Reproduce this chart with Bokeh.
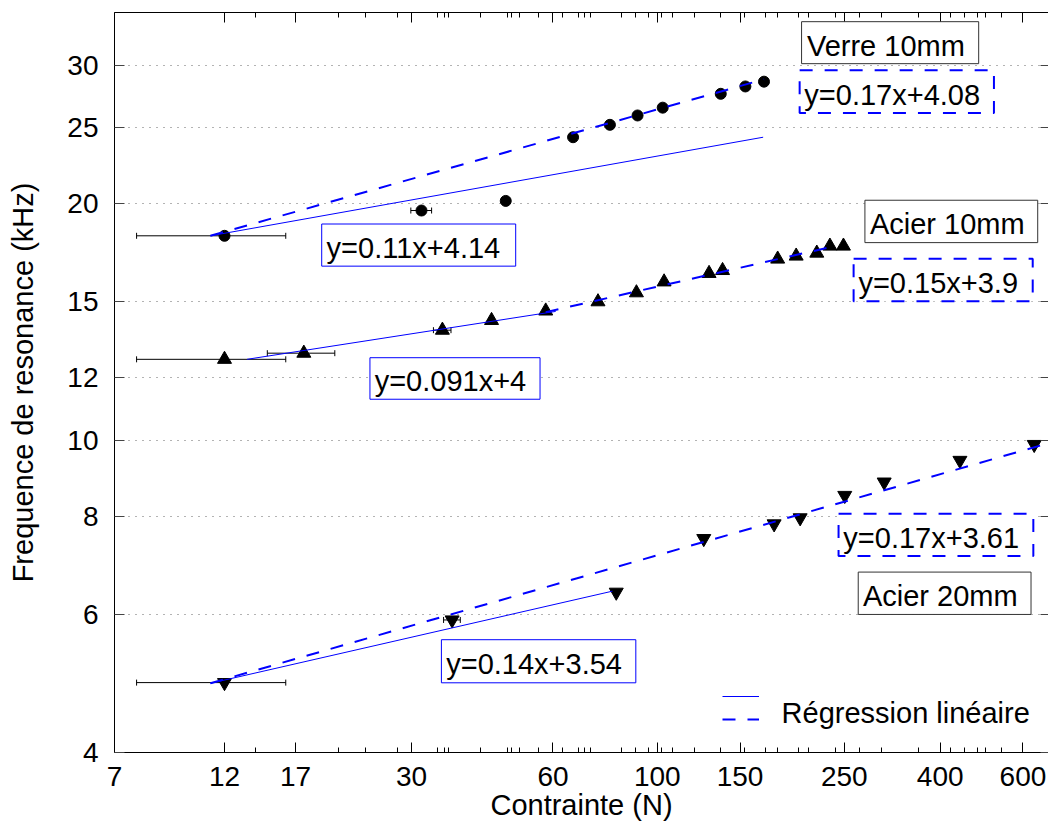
from bokeh.plotting import figure
from bokeh.models import (LogAxis, FixedTicker, PrintfTickFormatter, Whisker, TeeHead,
                          ColumnDataSource, Label, BoxAnnotation, Legend, LegendItem, Range1d)
from bokeh.embed import file_html
from bokeh.resources import INLINE

# ---------------- data ----------------
x_ticks = [7, 12, 17, 30, 60, 100, 150, 250, 400, 600]
x_minor = [14, 21, 24, 28, 34, 35.2, 35.9, 42, 48, 49, 51, 56, 63, 68, 70, 72, 84, 90, 96,
           102, 108, 120, 136, 153, 170, 180, 200, 210, 240, 270, 300, 360, 420, 450, 480, 500, 540]
y_ticks = [4, 6, 8, 10, 12, 15, 20, 25, 30]

verre_x = [12, 31.5, 47.6, 66.2, 79.3, 90.8, 102.7, 136.5, 154, 168.7]
verre_y = [18.2, 19.6, 20.16, 24.3, 25.2, 25.9, 26.5, 27.6, 28.2, 28.6]
verre_err = [4.2, 1.6, 0, 0, 0, 0, 0, 0, 0, 0]

acier10_x = [12, 17.7, 34.9, 44.4, 57.9, 74.8, 90.3, 103.4, 128.9, 137.7, 180.4, 197.5, 218.5, 233, 249]
acier10_y = [12.67, 12.9, 13.8, 14.2, 14.6, 15.0, 15.4, 15.9, 16.3, 16.44, 17.0, 17.15, 17.3, 17.66, 17.66]
acier10_err = [4.2, 2.9, 1.5, 0, 0, 0, 0, 0, 0, 0, 0, 0, 0, 0, 0]

acier20_x = [12, 36.6, 81.8, 125.6, 177.3, 201.4, 250.6, 304, 440.6, 634]
acier20_y = [4.91, 5.90, 6.40, 7.49, 7.82, 7.96, 8.50, 8.84, 9.42, 9.87]
acier20_err = [4.2, 1.5, 0, 0, 0, 0, 0, 0, 0, 0]

# regression lines (end points)
verre_fit1_x = [11.2, 168.0]
verre_fit1_y = [18.2, 24.3]
verre_fit2_x = [11.2, 168.7]
verre_fit2_y = [18.2, 28.8]
acier10_fit1_x = [13.4, 60.8]
acier10_fit1_y = [12.67, 14.58]
acier10_fit2_x = [57.9, 233.0]
acier10_fit2_y = [14.55, 17.6]
acier20_fit1_x = [11.2, 80.3]
acier20_fit1_y = [4.9, 6.42]
acier20_fit2_x = [11.2, 677.0]
acier20_fit2_y = [4.9, 9.90]

# annotation boxes
texts = ["Verre 10mm", "y=0.17x+4.08", "y=0.11x+4.14", "Acier 10mm", "y=0.15x+3.9",
         "y=0.091x+4", "y=0.17x+3.61", "Acier 20mm", "y=0.14x+3.54"]
box_style = ["black", "dashed", "solid", "black", "dashed", "solid", "dashed", "black", "solid"]
box_left = [202.8, 200.9, 19.32, 276.6, 261.7, 24.47, 243.1, 267.7, 34.73]
box_right = [483.0, 520.5, 49.98, 645.0, 629.4, 56.31, 631.3, 624.2, 90.03]
box_top = [34.10, 29.57, 18.84, 20.20, 17.02, 12.73, 8.056, 6.789, 5.568]
box_bottom = [30.15, 26.09, 16.65, 17.84, 15.02, 11.27, 7.115, 5.996, 4.907]
text_x = [208.2, 205.6, 19.79, 283.5, 267.9, 25.04, 248.9, 273.9, 35.56]
text_y = [31.79, 27.54, 17.56, 18.83, 15.84, 11.88, 7.506, 6.321, 5.178]

legend_text = "Régression linéaire"
legend_text_x = 183.9
legend_text_y = 4.485

FONT = "Liberation Sans"
BLUE = "#0000ff"

p = figure(width=1048, height=823, x_axis_type="log", y_axis_type="log",
           x_range=Range1d(7, 680), y_range=Range1d(4, 35.03),
           output_backend="svg", toolbar_location=None,
           min_border_left=114, min_border_top=12, min_border_right=0, min_border_bottom=71)
p.outline_line_color = None
p.background_fill_color = "white"
p.border_fill_color = "white"

xt = FixedTicker(ticks=x_ticks, minor_ticks=x_minor)
yt = FixedTicker(ticks=y_ticks, minor_ticks=[])

for ax in p.xaxis:
    ax.ticker = xt
    ax.formatter = PrintfTickFormatter(format="%d")
    ax.axis_label = "Contrainte (N)"
for ax in p.yaxis:
    ax.ticker = yt
    ax.formatter = PrintfTickFormatter(format="%d")
    ax.axis_label = "Frequence de resonance (kHz)"

def style_axis(ax):
    ax.axis_line_color = "black"
    ax.axis_line_width = 1
    ax.major_tick_in = 10
    ax.major_tick_out = 0
    ax.minor_tick_in = 5
    ax.minor_tick_out = 0
    ax.major_tick_line_color = "black"
    ax.minor_tick_line_color = "black"
    ax.major_label_text_font = FONT
    ax.major_label_text_font_size = "28px"
    ax.major_label_text_color = "black"
    ax.axis_label_text_font = FONT
    ax.axis_label_text_font_size = "29px"
    ax.axis_label_text_font_style = "normal"
    ax.axis_label_text_color = "black"

style_axis(p.xaxis[0])
style_axis(p.yaxis[0])
p.xaxis[0].major_label_standoff = 14
p.xaxis[0].axis_label_standoff = 0
p.yaxis[0].major_label_standoff = 16
p.yaxis[0].axis_label_standoff = 25
p.yaxis[0].major_tick_line_color = "#444444"
p.yaxis[0].minor_tick_line_color = None

top = LogAxis(ticker=xt, formatter=PrintfTickFormatter(format="%d"))
style_axis(top)
top.major_label_text_font_size = "1px"
top.major_label_text_color = None
top.major_label_standoff = 0
p.add_layout(top, "above")

right = LogAxis(ticker=yt, formatter=PrintfTickFormatter(format="%d"))
style_axis(right)
right.axis_line_color = None
right.major_tick_in = 8
right.major_tick_line_color = "#444444"
right.minor_tick_line_color = None
right.major_label_text_font_size = "1px"
right.major_label_text_color = None
right.major_label_standoff = 0
p.add_layout(right, "right")

p.xgrid.visible = False
p.ygrid.grid_line_color = "#666666"
p.ygrid.grid_line_dash = "1 6"
p.ygrid.grid_line_width = 1

# error bars
def err_src(xs, ys, es):
    b, lo, hi = [], [], []
    for x, y, e in zip(xs, ys, es):
        if e > 0:
            b.append(y); lo.append(x - e); hi.append(x + e)
    return ColumnDataSource(dict(base=b, lower=lo, upper=hi))

for xs, ys, es in [(verre_x, verre_y, verre_err), (acier10_x, acier10_y, acier10_err),
                   (acier20_x, acier20_y, acier20_err)]:
    w = Whisker(source=err_src(xs, ys, es), base="base", lower="lower", upper="upper",
                dimension="width", line_color="black", line_width=1, level="underlay",
                lower_head=TeeHead(size=6, line_color="black", line_width=1),
                upper_head=TeeHead(size=6, line_color="black", line_width=1))
    p.add_layout(w)

# markers
p.scatter(verre_x, verre_y, marker="circle", size=11, fill_color="black", line_color="black")
p.scatter(acier10_x, acier10_y, marker="triangle", size=14, fill_color="black", line_color="black")
p.scatter(acier20_x, acier20_y, marker="inverted_triangle", size=14, fill_color="black", line_color="black")

# regression lines
solid_r = p.line(verre_fit1_x, verre_fit1_y, line_color=BLUE, line_width=1)
dash_r = p.line(verre_fit2_x, verre_fit2_y, line_color=BLUE, line_width=2, line_dash="13 12")
p.line(acier10_fit1_x, acier10_fit1_y, line_color=BLUE, line_width=1)
p.line(acier10_fit2_x, acier10_fit2_y, line_color=BLUE, line_width=2, line_dash="13 12")
p.line(acier20_fit1_x, acier20_fit1_y, line_color=BLUE, line_width=1)
p.line(acier20_fit2_x, acier20_fit2_y, line_color=BLUE, line_width=2, line_dash="13 12")

# text boxes
for i in range(len(texts)):
    st = box_style[i]
    if st == "black":
        lc, lw, ld = "#333333", 1, "solid"
    elif st == "solid":
        lc, lw, ld = BLUE, 1, "solid"
    else:
        lc, lw, ld = BLUE, 2, "13 12"
    p.add_layout(BoxAnnotation(left=box_left[i], right=box_right[i], top=box_top[i],
                               bottom=box_bottom[i], fill_color="white", fill_alpha=1,
                               line_color=lc, line_alpha=1, line_width=lw, line_dash=ld))
    p.add_layout(Label(x=text_x[i], y=text_y[i], text=texts[i], text_font=FONT,
                       text_font_size="29px", text_color="black",
                       text_align="left", text_baseline="middle"))

# legend
leg = Legend(items=[LegendItem(label=" ", renderers=[solid_r]),
                    LegendItem(label=" ", renderers=[dash_r])],
             location=(608, 23), glyph_width=37, glyph_height=20, label_height=20,
             spacing=3, padding=0, margin=0, border_line_color=None,
             background_fill_alpha=0, label_text_font_size="8px", label_standoff=0,
             label_width=0)
p.add_layout(leg)
p.add_layout(Label(x=legend_text_x, y=legend_text_y, text=legend_text, text_font=FONT,
                   text_font_size="29px", text_color="black",
                   text_align="left", text_baseline="middle"))

open("out.html", "w").write(file_html(p, INLINE))
